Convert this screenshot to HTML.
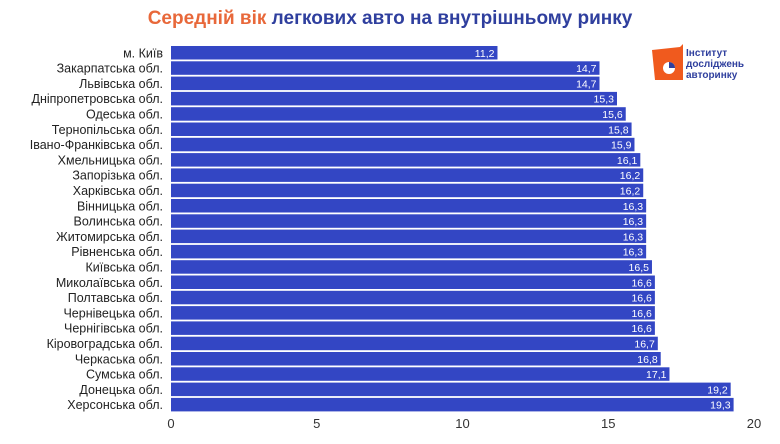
<!DOCTYPE html>
<html><head><meta charset="utf-8"><style>
body{margin:0;background:#fff;width:780px;height:439px;overflow:hidden;font-family:"Liberation Sans","Noto Sans CJK SC",sans-serif}
</style></head><body>
<svg id="c" width="780" height="439">
<text x="390" y="24" text-anchor="middle" font-size="19" font-weight="bold"><tspan fill="#e8683a">Середній вік</tspan><tspan fill="#2f3f9e"> легкових авто на внутрішньому ринку</tspan></text>
<g>
<path d="M652 50 L680 47 L683 44 L683 80 L655 80 Z" fill="#f05a1e"/>
<circle cx="669" cy="68" r="6" fill="#fff"/>
<path d="M669 68 L669 62 A6 6 0 0 1 675 68 Z" fill="#2f3f9e"/>
<text x="686" y="56" font-size="10" font-weight="bold" fill="#2f3f9e">Інститут</text>
<text x="686" y="67" font-size="10" font-weight="bold" fill="#2f3f9e">досліджень</text>
<text x="686" y="78" font-size="10" font-weight="bold" fill="#2f3f9e">авторинку</text>
</g>
</svg>
<script>
const categories=["м. Київ","Закарпатська обл.","Львівська обл.","Дніпропетровська обл.","Одеська обл.","Тернопільська обл.","Івано-Франківська обл.","Хмельницька обл.","Запорізька обл.","Харківська обл.","Вінницька обл.","Волинська обл.","Житомирська обл.","Рівненська обл.","Київська обл.","Миколаївська обл.","Полтавська обл.","Чернівецька обл.","Чернігівська обл.","Кіровоградська обл.","Черкаська обл.","Сумська обл.","Донецька обл.","Херсонська обл."];
const values=[11.2,14.7,14.7,15.3,15.6,15.8,15.9,16.1,16.2,16.2,16.3,16.3,16.3,16.3,16.5,16.6,16.6,16.6,16.6,16.7,16.8,17.1,19.2,19.3];
const ticks=[0,5,10,15,20];
const svg=document.getElementById('c');const NS="http://www.w3.org/2000/svg";
const x0=171,x1=754,top0=46,pitch=15.3,bh=13.5;
const xs=v=>x0+(v/20)*(x1-x0);
const ys=i=>top0+i*pitch;
function mk(t,a){const e=document.createElementNS(NS,t);for(const k in a)e.setAttribute(k,a[k]);svg.appendChild(e);return e;}
categories.forEach((c,i)=>{
const r=mk('rect',{x:x0,y:ys(i),width:xs(values[i])-x0,height:bh,fill:'#3346c4'});


const l=mk('text',{x:163,y:ys(i)+bh/2+4.5,'text-anchor':'end','font-size':12.5,fill:'#222'});l.textContent=c;


const v=mk('text',{x:xs(values[i])-3,y:ys(i)+bh/2+4,'text-anchor':'end','font-size':10.5,fill:'#fff'});v.textContent=String(values[i]).replace('.',',');


});
ticks.forEach(t=>{
const e=mk('text',{x:xs(t),y:428,'text-anchor':'middle','font-size':13,fill:'#333'});e.textContent=t;


});
</script>
</body></html>
